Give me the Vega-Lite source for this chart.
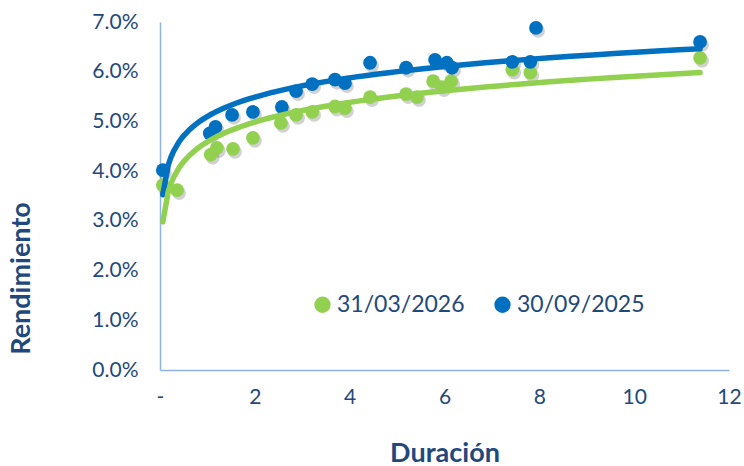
{
  "$schema": "https://vega.github.io/schema/vega-lite/v6.json",
  "width": 569,
  "height": 348,
  "autosize": "none",
  "padding": {"left": 160, "top": 22, "right": 15, "bottom": 96},
  "background": "white",
  "config": {
    "view": {"stroke": null},
    "font": "Lato",
    "axis": {"grid": false, "ticks": false, "domainColor": "#8EB4E3", "domainWidth": 1.5, "labelColor": "#1F497D", "labelFont": "Lato", "labelFontSize": 21, "titleColor": "#1F497D", "titleFont": "Lato", "titleFontSize": 27, "titleFontWeight": "bold"}
  },
  "data": {"values": [
    {"d": 0.06, "r": 0.0402, "s": "30/09/2025"},
    {"d": 1.05, "r": 0.0476, "s": "30/09/2025"},
    {"d": 1.17, "r": 0.0489, "s": "30/09/2025"},
    {"d": 1.52, "r": 0.0513, "s": "30/09/2025"},
    {"d": 1.96, "r": 0.0519, "s": "30/09/2025"},
    {"d": 2.57, "r": 0.0529, "s": "30/09/2025"},
    {"d": 2.87, "r": 0.0561, "s": "30/09/2025"},
    {"d": 3.21, "r": 0.0575, "s": "30/09/2025"},
    {"d": 3.69, "r": 0.0584, "s": "30/09/2025"},
    {"d": 3.9, "r": 0.0577, "s": "30/09/2025"},
    {"d": 4.43, "r": 0.0618, "s": "30/09/2025"},
    {"d": 5.19, "r": 0.0608, "s": "30/09/2025"},
    {"d": 5.8, "r": 0.0624, "s": "30/09/2025"},
    {"d": 6.05, "r": 0.0618, "s": "30/09/2025"},
    {"d": 6.16, "r": 0.0608, "s": "30/09/2025"},
    {"d": 7.43, "r": 0.062, "s": "30/09/2025"},
    {"d": 7.81, "r": 0.062, "s": "30/09/2025"},
    {"d": 7.93, "r": 0.0688, "s": "30/09/2025"},
    {"d": 11.39, "r": 0.066, "s": "30/09/2025"},
    {"d": 0.06, "r": 0.0372, "s": "31/03/2026"},
    {"d": 0.36, "r": 0.0362, "s": "31/03/2026"},
    {"d": 1.07, "r": 0.0433, "s": "31/03/2026"},
    {"d": 1.2, "r": 0.0447, "s": "31/03/2026"},
    {"d": 1.54, "r": 0.0445, "s": "31/03/2026"},
    {"d": 1.96, "r": 0.0467, "s": "31/03/2026"},
    {"d": 2.55, "r": 0.0497, "s": "31/03/2026"},
    {"d": 2.87, "r": 0.0513, "s": "31/03/2026"},
    {"d": 3.21, "r": 0.0519, "s": "31/03/2026"},
    {"d": 3.69, "r": 0.053, "s": "31/03/2026"},
    {"d": 3.9, "r": 0.0527, "s": "31/03/2026"},
    {"d": 4.43, "r": 0.0549, "s": "31/03/2026"},
    {"d": 5.19, "r": 0.0555, "s": "31/03/2026"},
    {"d": 5.42, "r": 0.0549, "s": "31/03/2026"},
    {"d": 5.76, "r": 0.0581, "s": "31/03/2026"},
    {"d": 5.95, "r": 0.0569, "s": "31/03/2026"},
    {"d": 6.14, "r": 0.0581, "s": "31/03/2026"},
    {"d": 7.43, "r": 0.0604, "s": "31/03/2026"},
    {"d": 7.81, "r": 0.0598, "s": "31/03/2026"},
    {"d": 11.39, "r": 0.0628, "s": "31/03/2026"}
  ]},
  "encoding": {
    "x": {"field": "d", "type": "quantitative", "scale": {"domain": [0, 12], "nice": false}, "axis": {"title": "Duración", "values": [0, 2, 4, 6, 8, 10, 12], "labelExpr": "datum.value == 0 ? '-' : datum.label", "labelFlush": false, "labelPadding": 16, "titlePadding": 33}},
    "y": {"field": "r", "type": "quantitative", "scale": {"domain": [0, 0.07], "nice": false}, "axis": {"title": "Rendimiento", "format": ".1%", "values": [0, 0.01, 0.02, 0.03, 0.04, 0.05, 0.06, 0.07], "labelFlush": false, "labelPadding": 22, "titleY": 256, "titleX": -125}},
    "color": {"field": "s", "type": "nominal", "sort": ["31/03/2026", "30/09/2025"], "scale": {"domain": ["31/03/2026", "30/09/2025"], "range": ["#92D050", "#0070C0"]},
      "legend": {"title": null, "orient": "none", "legendX": 151, "legendY": 271, "direction": "horizontal", "symbolType": "circle", "symbolSize": 220, "labelFontSize": 23, "labelColor": "#1F497D", "labelFont": "Lato", "columnPadding": 26, "labelOffset": 3, "symbolOpacity": 1}}
  },
  "layer": [
    {"mark": {"type": "circle", "size": 190, "opacity": 0.18, "color": "#000", "xOffset": 2, "yOffset": 3}, "encoding": {"color": {"value": "#000"}, "order": {"field": "s", "sort": "descending"}}},
    {"mark": {"type": "circle", "size": 190, "opacity": 1}, "encoding": {"order": {"field": "s", "sort": "descending"}}},
    {"transform": [{"regression": "r", "on": "d", "groupby": ["s"], "method": "log"}], "mark": {"type": "line", "strokeWidth": 5.5, "strokeCap": "round"}}
  ]
}
